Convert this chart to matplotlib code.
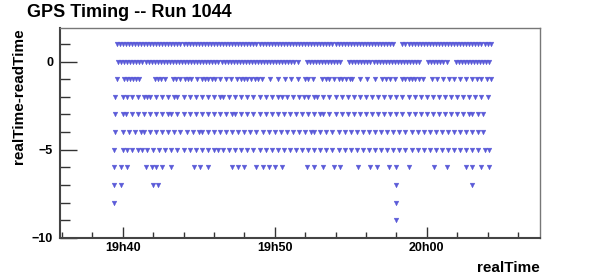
import numpy as np
import pandas as pd
import matplotlib
matplotlib.use('Agg')
import matplotlib.pyplot as plt
import matplotlib.dates as mdates

# event times, in minutes after 19h00, grouped by realTime-readTime value
t_p1 = [39.6, 39.8, 40.0, 40.2, 40.4, 40.6, 40.8, 41.0, 41.2, 41.4, 41.6, 41.8, 42.0, 42.2, 42.4, 42.6,
        42.8, 43.0, 43.2, 43.4, 43.6, 43.8, 44.0, 44.2, 44.4, 44.6, 44.8, 45.0, 45.2, 45.4, 45.6, 45.8,
        46.0, 46.2, 46.4, 46.6, 46.8, 47.0, 47.2, 47.4, 47.6, 47.8, 48.0, 48.2, 48.4, 48.6, 48.8, 49.0,
        49.2, 49.4, 49.6, 49.8, 50.0, 50.2, 50.4, 50.6, 50.8, 51.0, 51.2, 51.4, 51.6, 51.8, 52.0, 52.2,
        52.4, 52.6, 52.8, 53.0, 53.2, 53.4, 53.6, 53.8, 54.0, 54.2, 54.4, 54.6, 54.8, 55.0, 55.2, 55.4,
        55.6, 55.8, 56.0, 56.2, 56.4, 56.6, 56.8, 57.0, 57.2, 57.4, 57.6, 57.8, 58.4, 58.6, 58.8, 59.0,
        59.2, 59.4, 59.6, 59.8, 60.0, 60.2, 60.4, 60.6, 60.8, 61.0, 61.2, 61.4, 61.6, 61.8, 62.0, 62.2,
        62.4, 62.6, 62.8, 63.0, 63.2, 63.4, 63.6, 63.8, 64.0, 64.2]
t_0 = [39.7, 39.9, 40.1, 40.3, 40.5, 40.7, 40.9, 41.1, 41.3, 41.5, 41.7, 41.9, 42.1, 42.3, 42.5, 42.7,
       42.9, 43.1, 43.3, 43.5, 43.7, 43.9, 44.1, 44.3, 44.5, 44.7, 44.9, 45.1, 45.3, 45.5, 45.7, 45.9,
       46.1, 46.3, 46.5, 46.7, 46.9, 47.1, 47.3, 47.5, 47.7, 47.9, 48.1, 48.3, 48.5, 48.7, 48.9, 49.1,
       49.3, 49.5, 49.7, 49.9, 50.1, 50.3, 50.5, 50.7, 50.9, 51.1, 51.3, 51.5, 52.1, 52.3, 52.5, 52.7,
       52.9, 53.1, 53.3, 53.5, 53.7, 53.9, 54.1, 54.3, 54.9, 55.1, 55.3, 55.5, 55.7, 55.9, 56.1, 56.3,
       56.5, 56.7, 56.9, 57.1, 57.3, 57.5, 57.7, 57.9, 58.1, 58.3, 58.5, 58.7, 58.9, 59.1, 59.3, 59.5,
       60.1, 60.3, 60.5, 60.7, 60.9, 61.1, 61.3, 61.9, 62.1, 62.3, 62.5, 62.7, 62.9, 63.1, 63.3, 63.5,
       63.7, 63.9, 64.1]
t_m1 = [39.6, 40.1, 40.3, 40.5, 40.7, 40.9, 41.1, 42.1, 42.3, 42.5, 42.8, 43.3, 43.5, 43.75, 44.1,
        44.3, 44.5, 44.9, 45.2, 45.4, 45.6, 45.85, 46.05, 46.4, 46.8, 47.1, 47.5, 47.8, 48.0, 48.2,
        48.45, 48.7, 48.9, 49.15, 49.67, 50.2, 50.65, 51.1, 51.5, 52.0, 52.2, 52.5, 53.1, 53.35, 53.6,
        53.9, 54.2, 54.45, 54.7, 54.95, 55.1, 55.6, 56.05, 56.6, 57.05, 57.3, 57.6, 57.9, 58.4, 58.6,
        58.8, 59.0, 59.25, 59.5, 59.75, 60.35, 60.7, 61.05, 61.45, 61.8, 62.2, 62.6, 62.95, 63.3, 63.6,
        63.95, 64.25]
t_m2 = [39.5, 40.0, 40.3, 40.6, 41.0, 41.4, 41.6, 41.8, 42.2, 42.6, 43.0, 43.4, 43.6, 44.0, 44.4,
        44.8, 45.2, 45.6, 46.0, 46.4, 46.6, 47.0, 47.4, 47.8, 48.2, 48.6, 49.0, 49.4, 49.8, 50.2, 50.5,
        50.8, 51.2, 51.6, 51.9, 52.2, 52.6, 52.8, 53.2, 53.6, 54.0, 54.4, 54.8, 55.2, 55.6, 56.0, 56.4,
        56.8, 57.2, 57.6, 58.0, 58.4, 58.8, 59.2, 59.6, 60.0, 60.4, 60.8, 61.2, 61.6, 62.0, 62.4, 62.8,
        63.2, 63.6, 64.0]
t_m3 = [39.5, 40.0, 40.2, 40.6, 41.0, 41.4, 41.8, 42.2, 42.6, 43.0, 43.2, 43.6, 44.0, 44.4, 44.8,
        45.2, 45.6, 46.0, 46.4, 46.8, 47.2, 47.4, 47.8, 48.2, 48.6, 49.0, 49.4, 49.8, 50.2, 50.6, 51.0,
        51.4, 51.8, 52.2, 52.6, 53.0, 53.2, 53.6, 54.0, 54.4, 54.8, 55.2, 55.6, 56.0, 56.4, 56.8, 57.2,
        57.6, 58.0, 58.4, 58.8, 59.2, 59.6, 60.0, 60.4, 60.8, 61.2, 61.6, 62.0, 62.4, 62.8, 63.0, 63.4,
        63.7]
t_m4 = [39.5, 40.0, 40.4, 40.8, 41.2, 41.4, 41.8, 42.2, 42.6, 43.0, 43.4, 43.8, 44.2, 44.6, 45.0,
        45.2, 45.6, 46.0, 46.4, 46.8, 47.2, 47.6, 48.0, 48.4, 48.8, 49.2, 49.6, 50.0, 50.4, 50.8, 51.2,
        51.6, 52.0, 52.4, 52.6, 53.0, 53.4, 53.8, 54.2, 54.6, 55.0, 55.4, 55.8, 56.2, 56.6, 57.0, 57.4,
        57.8, 58.2, 58.6, 59.0, 59.4, 59.8, 60.2, 60.6, 61.0, 61.4, 61.8, 62.2, 62.6, 63.0, 63.4, 63.7]
t_m5 = [39.4, 40.0, 40.3, 40.6, 41.0, 41.3, 41.6, 42.0, 42.4, 42.8, 43.2, 43.6, 44.0, 44.4, 44.8,
        45.2, 45.6, 46.0, 46.3, 46.6, 47.0, 47.4, 47.8, 48.2, 48.6, 49.0, 49.4, 49.8, 50.2, 50.6, 51.0,
        51.4, 51.8, 52.2, 52.6, 53.0, 53.4, 53.8, 54.2, 54.6, 55.0, 55.4, 55.8, 56.2, 56.6, 57.0, 57.4,
        57.8, 58.2, 58.6, 59.0, 59.4, 59.8, 60.2, 60.6, 61.0, 61.4, 61.8, 62.2, 62.6, 63.0, 63.4, 63.8,
        64.1]
t_m6 = [39.4, 39.9, 40.3, 41.5, 41.9, 42.2, 42.6, 43.2, 44.7, 45.1, 45.6, 47.2, 47.6, 48.0, 48.8,
        49.2, 49.6, 50.0, 50.5, 52.1, 52.6, 53.2, 53.9, 54.3, 55.5, 56.3, 56.7, 57.5, 58.0, 58.8, 60.5,
        61.3, 62.6, 63.0, 63.6, 64.1]
t_m7 = [39.4, 39.9, 42.0, 42.3, 58.0, 63.0]
t_m8 = [39.4, 58.0]
t_m9 = [58.0]

rows = {1: t_p1, 0: t_0, -1: t_m1, -2: t_m2, -3: t_m3, -4: t_m4,
        -5: t_m5, -6: t_m6, -7: t_m7, -8: t_m8, -9: t_m9}

base = pd.Timestamp('2000-01-01 19:00')
xs, ys = [], []
for dt, times in rows.items():
    xs.extend(times)
    ys.extend([dt] * len(times))
real_time = (base + pd.to_timedelta(xs, unit='min')).to_numpy()
diff = np.array(ys)

plt.rcParams['font.family'] = ['Liberation Sans', 'DejaVu Sans']
plt.rcParams['font.weight'] = 'bold'

fig = plt.figure(figsize=(6, 2.8), dpi=100)
ax = fig.add_axes([0.1, 0.15, 0.8, 0.75])

ax.plot(real_time, diff, 'v', ms=3.4, color='#5b5bd8', mec='#5b5bd8', mew=0.3)

ax.set_xlim(base + pd.Timedelta(minutes=35.875), base + pd.Timedelta(minutes=67.45))
ax.set_ylim(-10, 1.9)

ax.xaxis.set_major_locator(mdates.MinuteLocator(byminute=range(0, 60, 10)))
ax.xaxis.set_minor_locator(mdates.MinuteLocator(byminute=range(0, 60, 2)))
ax.xaxis.set_major_formatter(mdates.DateFormatter('%Hh%M'))
ax.yaxis.set_major_locator(plt.MultipleLocator(5))
ax.yaxis.set_minor_locator(plt.MultipleLocator(1))

ax.tick_params(which='both', direction='in', top=False, right=False, labelsize=9, color='#333333')
ax.tick_params(axis='y', which='major', length=12, width=1, pad=5)
ax.tick_params(axis='y', which='minor', length=7, width=1)
ax.tick_params(axis='x', which='major', length=8, width=1, pad=3)
ax.tick_params(axis='x', which='minor', length=4, width=1)
for lab in ax.get_xticklabels() + ax.get_yticklabels():
    lab.set_fontweight('bold')

for s in ['left', 'bottom']:
    ax.spines[s].set_color('#444444')
    ax.spines[s].set_linewidth(1.5)
for s in ['top', 'right']:
    ax.spines[s].set_color('#777777')
    ax.spines[s].set_linewidth(1.0)

ax.set_ylabel('realTime-readTime', fontsize=11, fontweight='bold', loc='top')
ax.yaxis.set_label_coords(-0.071, 1.0)
ax.set_xlabel('realTime', fontsize=11, fontweight='bold', loc='right', labelpad=5)
fig.text(0.045, 0.985, 'GPS Timing -- Run 1044', fontsize=13, fontweight='bold', va='top', ha='left')

fig.savefig('out.png', dpi=100)
